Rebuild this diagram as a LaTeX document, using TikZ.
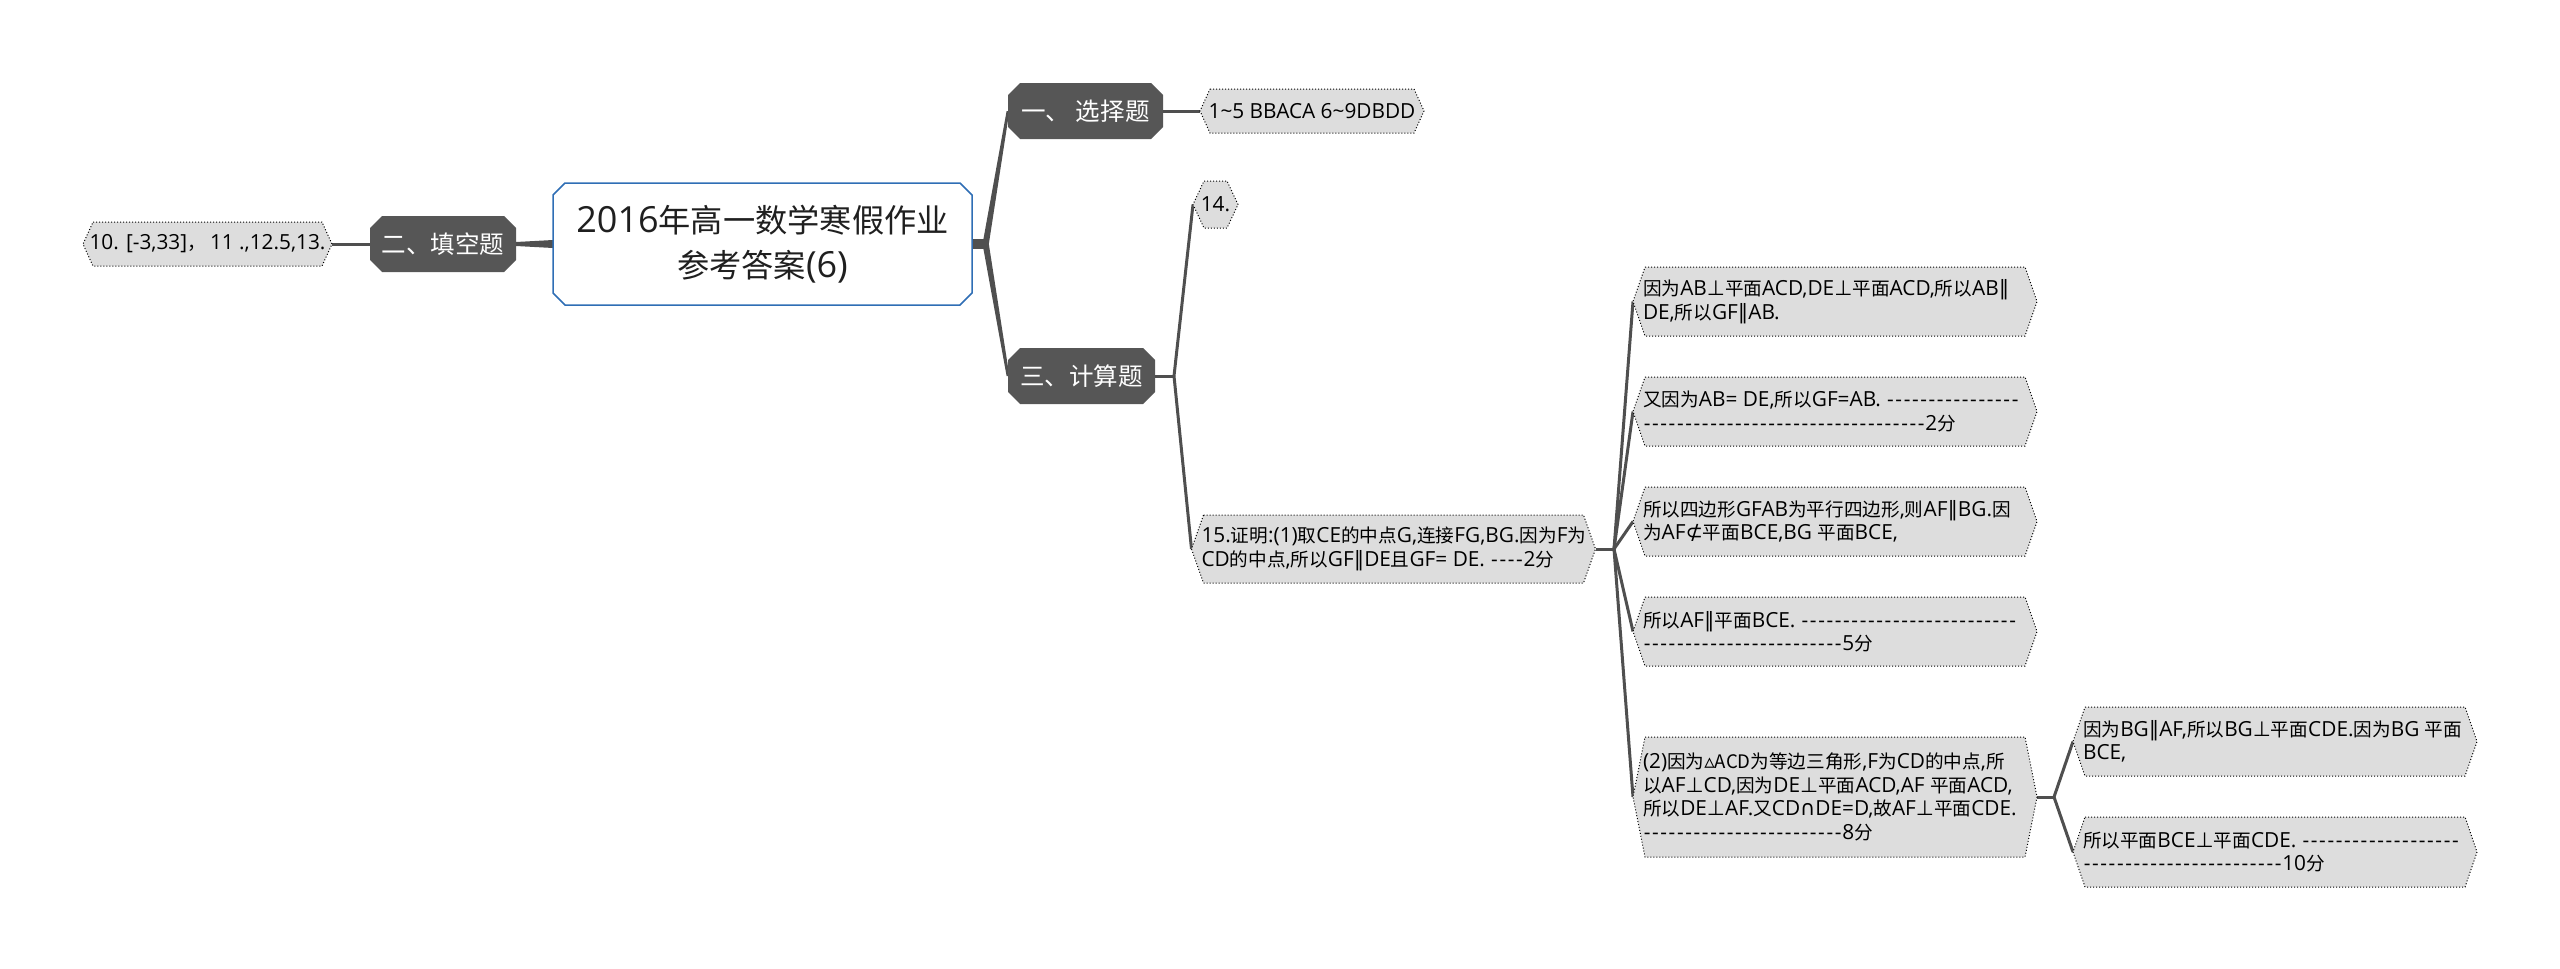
\documentclass[tikz,border=0pt]{standalone}
\usepackage{fontspec}
\setmainfont{Open Sans}[Ligatures=TeXOff]
\newfontfamily\cjkf{Noto Sans CJK SC}[Scale=0.895,Ligatures=TeXOff]
\newfontfamily\symfont{DejaVu Sans}
\newcommand\latf{\rmfamily}
\newcount\mycc
\mycc="3000 \loop \XeTeXcharclass\mycc=1 \advance\mycc by 1 \ifnum\mycc<"3040 \repeat
\mycc="4E00 \loop \XeTeXcharclass\mycc=1 \advance\mycc by 1 \ifnum\mycc<"A000 \repeat
\mycc="FF00 \loop \XeTeXcharclass\mycc=1 \advance\mycc by 1 \ifnum\mycc<"FF60 \repeat
\XeTeXinterchartokenstate=1
\XeTeXinterchartoks 0 1 = {\cjkf}
\XeTeXinterchartoks 4095 1 = {\cjkf}
\XeTeXinterchartoks 1 0 = {\latf}
\usetikzlibrary{backgrounds}
\definecolor{darkbox}{HTML}{565656}
\definecolor{leafgray}{HTML}{DDDDDD}
\definecolor{rootblue}{HTML}{2F6EB5}
\definecolor{linkgray}{HTML}{4F4F4F}
\newcommand\SY[1]{{\symfont #1}}
\newcommand\onedash{\leavevmode\hbox to 4.15pt{\hss-\hss}}
\ExplSyntaxOn
\cs_new:Npn \dashrun #1 {\prg_replicate:nn{#1}{\onedash}}
\ExplSyntaxOff
\newcommand\leaffont{\fontsize{10.4}{11.75}\selectfont\exhyphenpenalty=10000\hyphenpenalty=10000\relax}
\newcommand\hexa[3]{\path[#3] ([xshift=#2]#1.north west) -- ([xshift=-#2]#1.north east) -- (#1.east) -- ([xshift=-#2]#1.south east) -- ([xshift=#2]#1.south west) -- (#1.west) -- cycle;}
\newcommand\chamf[3]{\path[#3] ([xshift=#2]#1.north west) -- ([xshift=-#2]#1.north east) -- ([yshift=-#2]#1.north east) -- ([yshift=#2]#1.south east) -- ([xshift=-#2]#1.south east) -- ([xshift=#2]#1.south west) -- ([yshift=#2]#1.south west) -- ([yshift=-#2]#1.north west) -- cycle;}
\begin{document}
\begin{tikzpicture}[x=0.5pt,y=-0.5pt,
  every node/.style={inner sep=0pt,outer sep=0pt},
  rootnode/.style={minimum width=209.5pt,minimum height=61pt,align=center,font=\fontsize{18}{22.5}\selectfont,text=black!88},
  topic/.style={minimum height=28pt,text=white,font=\fontsize{13.7}{15}\selectfont},
  leafbox/.style={align=center,font=\leaffont},
  leafwide/.style={text width=192pt,inner xsep=5pt,align=flush left,font=\leaffont},
  link/.style={draw=linkgray,line width=1.5pt},
  taper/.style={fill=linkgray},
  leafframe/.style={fill=leafgray,draw=black,densely dotted,line width=0.5pt},
  topicframe/.style={fill=darkbox},
  rootframe/.style={fill=white,draw=rootblue,line width=0.75pt}]
\useasboundingbox (0,0) rectangle (2560,969);

% nodes
\node[rootnode] (root) at (762.5,244) {2016年高一数学寒假作业\\参考答案(6)};
\node[topic,minimum width=73pt] (t2) at (443,244) {二、填空题};
\node[topic,minimum width=77.5pt] (t1) at (1085.5,111) {一、 选择题};
\node[topic,minimum width=73.5pt] (t3) at (1081.5,376) {三、计算题};

\node[leafbox,minimum width=124.5pt,minimum height=22pt] (l10) at (207.5,244) {10. [-3,33]，\ \latf 11 .,12.5,13.};
\node[leafbox,minimum width=112pt,minimum height=22pt] (l1) at (1312,111) {1\textasciitilde 5 BBACA 6\textasciitilde 9DBDD};
\node[leafbox,minimum width=22.5pt,minimum height=23.5pt] (l14) at (1215.5,204.5) {14.};

\node[leafwide,minimum height=34pt] (l15) at (1393.5,549) {15.证明:(1)取CE的中点G,连接FG,BG.因为F为\\\latf CD的中点,所以GF\SY{∥}DE且GF= DE. \dashrun{4}2分};
\node[leafwide,minimum height=34.5pt] (la) at (1835,301.5) {因为AB\SY{⊥}平面ACD,DE\SY{⊥}平面ACD,所以AB\SY{∥}\\DE,所以GF\SY{∥}AB.};
\node[leafwide,minimum height=34.5pt] (lb) at (1835,411.5) {又因为AB= DE,所以GF=AB. \dashrun{16}\\\dashrun{34}2分};
\node[leafwide,minimum height=34.5pt] (lc) at (1835,521.5) {所以四边形GFAB为平行四边形,则AF\SY{∥}BG.因\\为AF\SY{⊄}平面BCE,BG 平面BCE,};
\node[leafwide,minimum height=34.5pt] (ld) at (1835,631.5) {所以AF\SY{∥}平面BCE. \dashrun{26}\\\dashrun{24}5分};
\node[leafwide,minimum height=60pt] (le) at (1835,797) {(2)因为\SY{▵}ACD为等边三角形,F为CD的中点,所\\以AF\SY{⊥}CD,因为DE\SY{⊥}平面ACD,AF 平面ACD,\\所以DE\SY{⊥}AF.又CD\SY{∩}DE=D,故AF\SY{⊥}平面CDE.\\\latf\dashrun{24}8分};
\node[leafwide,minimum height=34.5pt] (lf) at (2275,741.5) {因为BG\SY{∥}AF,所以BG\SY{⊥}平面CDE.因为BG 平面\\\latf BCE,};
\node[leafwide,minimum height=35pt] (lg) at (2275,852) {所以平面BCE\SY{⊥}平面CDE. \dashrun{19}\\\dashrun{24}10分};

\coordinate (j0) at (985,244);
\coordinate (j1) at (1174,376);
\coordinate (j2) at (1614,549);
\coordinate (j3) at (2054,797);

\begin{scope}[on background layer]
  % connectors
  \fill[taper] ([yshift=2pt]root.west) -- ([yshift=1pt]t2.east) -- ([yshift=-1pt]t2.east) -- ([yshift=-2pt]root.west) -- cycle;
  \draw[link] (l10.east) -- (t2.west);
  \fill[taper] ([yshift=2.5pt]root.east) -- ([yshift=2.5pt]j0) -- ([yshift=-2.5pt]j0) -- ([yshift=-2.5pt]root.east) -- cycle;
  \fill[taper] ([xshift=-1.6pt,yshift=-2pt]j0) -- ([xshift=-0.7pt]t1.west) -- ([xshift=0.7pt]t1.west) -- ([xshift=1.6pt,yshift=-2pt]j0) -- cycle;
  \fill[taper] ([xshift=-1.6pt,yshift=2pt]j0) -- ([xshift=-0.7pt]t3.west) -- ([xshift=0.7pt]t3.west) -- ([xshift=1.6pt,yshift=2pt]j0) -- cycle;
  \draw[link] (t1.east) -- (l1.west);
  \draw[link] (t3.east) -- (j1);
  \draw[link] (j1) -- (l14.west);
  \draw[link] (j1) -- (l15.west);
  \draw[link] (l15.east) -- (j2);
  \foreach \n in {la,lb,lc,ld,le} \draw[link] (j2) -- (\n.west);
  \draw[link] (le.east) -- (j3);
  \draw[link] (j3) -- (lf.west);
  \draw[link] (j3) -- (lg.west);
  % frames
  \chamf{root}{6pt}{rootframe}
  \chamf{t1}{6pt}{topicframe}
  \chamf{t2}{6pt}{topicframe}
  \chamf{t3}{6pt}{topicframe}
  \hexa{l10}{5pt}{leafframe}
  \hexa{l1}{5pt}{leafframe}
  \hexa{l14}{5.5pt}{leafframe}
  \foreach \n in {l15,la,lb,lc,ld,le,lf,lg} {\hexa{\n}{6pt}{leafframe}}
\end{scope}
\end{tikzpicture}
\end{document}
